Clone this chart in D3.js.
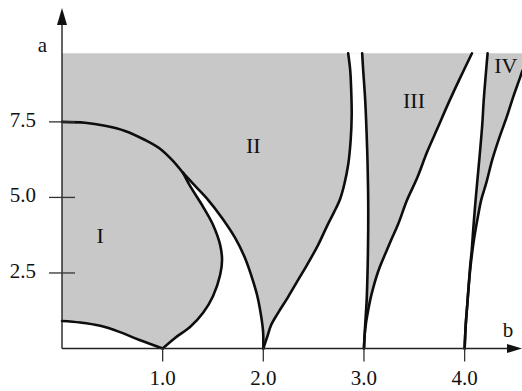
<!DOCTYPE html>
<html><head><meta charset="utf-8">
<script src="https://cdn.jsdelivr.net/npm/d3@7"></script>
<style>
html,body{margin:0;padding:0;background:#fff;}
svg{display:block;}
svg text{font-family:"Liberation Serif","Times New Roman",serif;}
</style>
</head><body>
<script>
// Stability chart in the (b, a) plane: shaded = stable regions, white = unstable tongues.
const bTicks = [1.0, 2.0, 3.0, 4.0];
const aTicks = [2.5, 5.0, 7.5];
const bMax = 4.57, aMax = 9.77;

// Boundary curves, as [b, a] pairs
const lowerI = [[0,0.91],[0.18,0.86],[0.38,0.75],[0.57,0.55],[0.77,0.28],[1.0,0]];
const rightI = [[1.0,0],[1.123,0.35],[1.272,0.71],[1.402,1.18],[1.501,1.74],[1.571,2.43],[1.590,2.93],
  [1.571,3.43],[1.501,4.09],[1.402,4.69],[1.272,5.38],[1.203,5.81]];
const topI = [[0,7.5],[0.229,7.47],[0.427,7.37],[0.626,7.20],[0.825,6.90],[0.974,6.61],[1.093,6.24],[1.203,5.81]];
const leftII = [[2.0,0],[1.998,0.55],[1.978,1.08],[1.938,1.77],[1.879,2.43],[1.819,2.99],[1.720,3.66],
  [1.590,4.32],[1.451,4.92],[1.322,5.38],[1.203,5.81]];
const rightII = [[2.0,0],[2.038,0.38],[2.078,0.78],[2.147,1.18],[2.247,1.71],[2.346,2.27],[2.435,2.77],
  [2.545,3.43],[2.634,4.06],[2.704,4.52],[2.763,4.95],[2.803,5.41],[2.843,6.08],[2.868,6.90],
  [2.878,7.73],[2.873,8.56],[2.863,9.22],[2.843,9.77]];
const leftIII = [[3.0,0],[3.012,0.78],[3.027,1.61],[3.037,2.76],[3.042,3.92],[3.042,4.91],[3.037,5.91],
  [3.032,6.57],[3.012,8.23],[2.992,9.22],[2.982,9.77]];
const rightIII = [[3.0,0],[3.007,0.45],[3.022,0.88],[3.042,1.27],[3.062,1.61],[3.091,2.00],[3.126,2.40],
  [3.161,2.73],[3.211,3.13],[3.270,3.59],[3.340,4.12],[3.429,4.92],[3.529,5.65],[3.628,6.51],
  [3.728,7.27],[3.827,8.03],[3.946,8.89],[4.073,9.77]];
const leftIV = [[4.0,0],[4.011,0.78],[4.026,1.44],[4.041,2.10],[4.056,2.76],[4.071,3.26],[4.085,3.92],
  [4.105,4.75],[4.125,5.51],[4.150,6.41],[4.175,7.40],[4.190,8.23],[4.210,9.06],[4.228,9.77]];
const rightIV = [[4.0,0],[4.011,0.78],[4.026,1.44],[4.041,2.10],[4.060,2.76],[4.081,3.33],[4.105,3.86],
  [4.135,4.42],[4.165,4.92],[4.215,5.48],[4.274,6.24],[4.344,6.97],[4.420,7.68],[4.483,8.33],
  [4.553,8.99],[4.573,9.19]];

const regionNames = ["I", "II", "III", "IV"];
const regionB = [0.378, 1.90, 3.497, 4.41];
const regionA = [3.49, 6.46, 7.97, 9.11];

const W = 522, H = 391;
const x = d3.scaleLinear().domain([0, bMax]).range([62, 522]);
const y = d3.scaleLinear().domain([0, aMax]).range([348.5, 53.3]);

const svg = d3.select("body").append("svg").attr("width", W).attr("height", H);

const line = d3.line().x(d => x(d[0])).y(d => y(d[1])).curve(d3.curveCatmullRom.alpha(0.5));
const rev = a => a.slice().reverse();
// join several curves into one closed outline
const outline = (...parts) => parts.map((p, i) => {
  const s = Array.isArray(p) ? line(p) : p;
  return i === 0 ? s : s.replace(/^M/, "L");
}).join("") + "Z";
const pt = (b, a) => `M${x(b)},${y(a)}`;

// stable background
svg.append("rect")
  .attr("x", x(0)).attr("y", y(aMax))
  .attr("width", x(bMax) - x(0)).attr("height", y(0) - y(aMax))
  .attr("fill", "#c8c8c8");

// unstable tongues
const white = [
  outline(pt(0, 0), lowerI),
  outline(rightI, rev(leftII)),
  outline(rightII, rev(leftIII)),
  outline(rightIII, rev(leftIV)),
  outline(rightIV, pt(bMax, 0))
];
svg.append("g").selectAll("path").data(white).join("path")
  .attr("d", d => d).attr("fill", "#fff");

// boundary curves
svg.append("g").selectAll("path")
  .data([lowerI, rightI, topI, leftII, rightII, leftIII, rightIII, leftIV, rightIV])
  .join("path")
  .attr("d", line)
  .attr("fill", "none").attr("stroke", "#0d0d0d")
  .attr("stroke-width", 2.6).attr("stroke-linecap", "round").attr("stroke-linejoin", "round");

// axes
const ax = svg.append("g").attr("stroke", "#222").attr("stroke-width", 1.4);
ax.append("line").attr("x1", x(0)).attr("x2", 512).attr("y1", y(0)).attr("y2", y(0));
ax.append("line").attr("x1", x(0)).attr("x2", x(0)).attr("y1", y(0)).attr("y2", 20);
svg.append("path").attr("d", `M${x(0)},8 L${x(0) - 5},25 L${x(0) + 5},25 Z`).attr("fill", "#111");
svg.append("path").attr("d", `M522,${y(0)} L507,${y(0) - 4.5} L507,${y(0) + 4.5} Z`).attr("fill", "#111");

const tickG = svg.append("g").attr("stroke", "#333").attr("stroke-width", 1.3);
tickG.selectAll("line.a").data(aTicks).join("line").attr("class", "a")
  .attr("x1", x(0) - 13).attr("x2", x(0) + 13)
  .attr("y1", d => y(d)).attr("y2", d => y(d));
tickG.selectAll("line.b").data(bTicks).join("line").attr("class", "b")
  .attr("x1", d => x(d)).attr("x2", d => x(d))
  .attr("y1", y(0)).attr("y2", y(0) + 13);

const txt = svg.append("g").attr("font-size", 21).attr("fill", "#111");
txt.selectAll("text.bt").data(bTicks).join("text").attr("class", "bt")
  .attr("x", d => x(d)).attr("y", 385).attr("text-anchor", "middle")
  .text(d => d3.format(".1f")(d));
txt.selectAll("text.at").data(aTicks).join("text").attr("class", "at")
  .attr("x", 36).attr("y", d => y(d) + 5).attr("text-anchor", "end")
  .text(d => d3.format(".1f")(d));
txt.append("text").attr("x", 42.5).attr("y", 51.5).attr("text-anchor", "middle").text("a");
txt.append("text").attr("x", 508).attr("y", 337).attr("text-anchor", "middle").text("b");
txt.selectAll("text.rg").data(regionNames).join("text").attr("class", "rg")
  .attr("x", (d, i) => x(regionB[i])).attr("y", (d, i) => y(regionA[i]))
  .attr("text-anchor", "middle").attr("font-size", 22).text(d => d);
</script>
</body></html>
